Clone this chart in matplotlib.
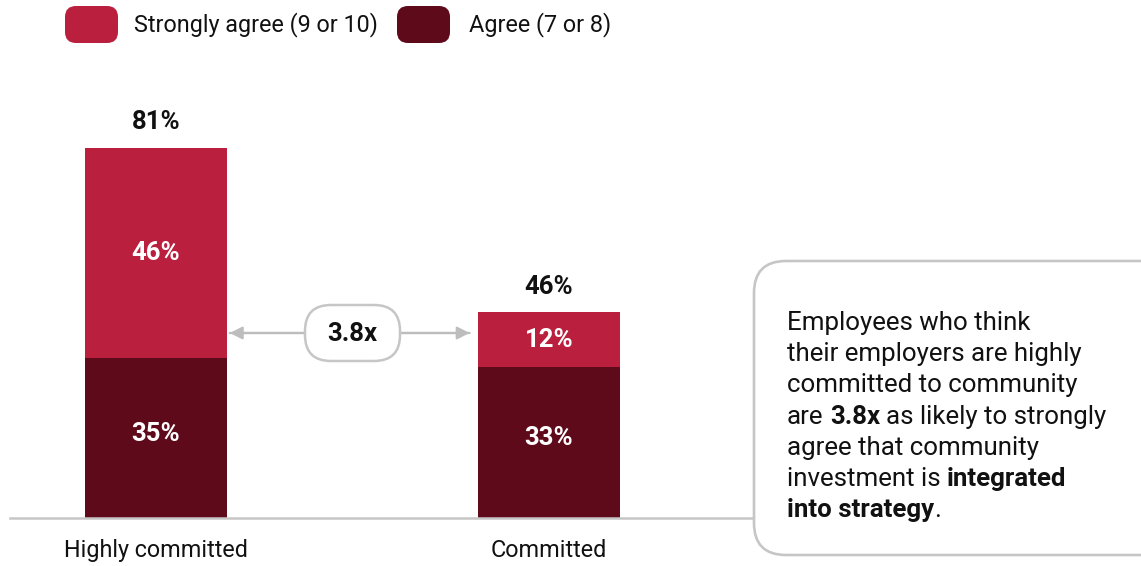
import matplotlib
matplotlib.use("Agg")
import matplotlib.pyplot as plt
from matplotlib.patches import FancyBboxPatch

plt.rcParams["font.family"] = ["Roboto", "DejaVu Sans"]

# ---- data ----
categories = ["Highly committed", "Committed"]
agree = [35, 33]              # Agree (7 or 8)
strongly_agree = [46, 12]     # Strongly agree (9 or 10)
totals = [81, 46]
series_names = ["Strongly agree (9 or 10)", "Agree (7 or 8)"]
ratio_label = "3.8x"

C_STRONG = "#BA1F3D"
C_AGREE = "#5E0A1A"
C_GRAY = "#C6C6C6"
W, H = 1141, 566
FS_BOLD = 18.5
FS_NOTE = 18.6
FS_LABEL = 16.8

fig = plt.figure(figsize=(W / 100, H / 100), dpi=100)

# bar axes: baseline at y=518 px, 4.568 px per percentage point
px_per_unit = 393.0
ax = fig.add_axes([10 / W, 1 - 518 / H, 745 / W, 456.8 / H])
ax.set_ylim(0, 100)
ax.set_xlim(-146 / px_per_unit, 1 + 206 / px_per_unit)
bar_w = 142 / px_per_unit
xs = list(range(len(categories)))

ax.bar(xs, agree, width=bar_w, color=C_AGREE, zorder=2)
ax.bar(xs, strongly_agree, bottom=agree, width=bar_w, color=C_STRONG, zorder=2)

for x, a, s, t in zip(xs, agree, strongly_agree, totals):
    ax.annotate(f"{a}%", (x, a / 2), xytext=(0, 3), textcoords="offset points",
                ha="center", va="center", color="white",
                fontsize=FS_BOLD, fontweight="bold", zorder=3)
    ax.text(x, a + s / 2, f"{s}%", ha="center", va="center", color="white",
            fontsize=FS_BOLD, fontweight="bold", zorder=3)
    ax.annotate(f"{t}%", (x, a + s), xytext=(0, 13.5), textcoords="offset points",
                ha="center", va="baseline", fontsize=FS_BOLD, fontweight="bold",
                color="#111111")

for side in ["top", "right", "left"]:
    ax.spines[side].set_visible(False)
ax.spines["bottom"].set_color(C_GRAY)
ax.spines["bottom"].set_linewidth(1.8)
ax.set_yticks([])
ax.set_xticks(xs)
ax.set_xticklabels(categories, fontsize=FS_LABEL, color="#111111")
ax.tick_params(axis="x", length=0, pad=15)
ax.patch.set_visible(False)

# double-headed comparison arrow between the two bars
arrow_y = 40.5
x_left = xs[0] + bar_w / 2
x_right = xs[1] - bar_w / 2
head = "-|>,head_length=0.75,head_width=0.38"
ax.annotate("", xy=(x_left, arrow_y), xytext=(x_right, arrow_y),
            arrowprops=dict(arrowstyle=head, color="#BDBDBD", lw=1.6,
                            shrinkA=6, shrinkB=2, mutation_scale=10))
ax.annotate("", xy=(x_right, arrow_y), xytext=(x_left, arrow_y),
            arrowprops=dict(arrowstyle=head, color="#BDBDBD", lw=1.6,
                            shrinkA=2, shrinkB=6, mutation_scale=10))

# overlay in pixel units for legend, pill and note box
deco = fig.add_axes([0, 0, 1, 1])
deco.set_xlim(0, W)
deco.set_ylim(H, 0)
deco.axis("off")
deco.patch.set_visible(False)

fig.canvas.draw()
# pill centred on the arrow
cx_disp, cy_disp = ax.transData.transform(((x_left + x_right) / 2, arrow_y))
cx, cy = deco.transData.inverted().transform((cx_disp, cy_disp))
pw, ph = 95, 56
deco.add_patch(FancyBboxPatch((cx - pw / 2, cy - ph / 2), pw, ph,
                              boxstyle="round,pad=0,rounding_size=26",
                              facecolor="white", edgecolor=C_GRAY, lw=1.8,
                              zorder=4))
deco.text(cx, cy + 1, ratio_label, ha="center", va="center", fontsize=FS_BOLD,
          fontweight="bold", color="#111111", zorder=5)

# legend
swatches = [(65, 69, C_STRONG), (397, 72, C_AGREE)]
for (sx, gap, col), name in zip(swatches, series_names):
    deco.add_patch(FancyBboxPatch((sx, 6), 53, 37,
                                  boxstyle="round,pad=0,rounding_size=11",
                                  facecolor=col, edgecolor="none"))
    deco.text(sx + gap, 25, name, ha="left", va="center", fontsize=16.8,
              color="#111111")

# note box
deco.add_patch(FancyBboxPatch((754, 261), 420, 294,
                              boxstyle="round,pad=0,rounding_size=32",
                              facecolor="white", edgecolor=C_GRAY, lw=1.9,
                              zorder=3))

note_lines = [
    [("Employees who think", False)],
    [("their employers are highly", False)],
    [("committed to community", False)],
    [("are", False), ("3.8x", True), ("as likely to strongly", False)],
    [("agree that community", False)],
    [("investment is", False), ("integrated", True)],
    [("into strategy", True), (".", False)],
]

renderer = fig.canvas.get_renderer()
inv = deco.transData.inverted()


def text_width(s, bold):
    t = deco.text(0, 0, s, fontsize=FS_NOTE,
                  fontweight="bold" if bold else "normal")
    bb = t.get_window_extent(renderer)
    t.remove()
    x0 = inv.transform((bb.x0, 0))[0]
    x1 = inv.transform((bb.x1, 0))[0]
    return x1 - x0


space_w = text_width("a a", False) - text_width("aa", False)

y0, dy = 330, 31.2
for i, pieces in enumerate(note_lines):
    x = 787
    for j, (s, bold) in enumerate(pieces):
        if j > 0 and s != ".":
            x += space_w
        deco.text(x, y0 + i * dy, s, ha="left", va="baseline", fontsize=FS_NOTE,
                  fontweight="bold" if bold else "normal", color="#111111",
                  zorder=5)
        x += text_width(s, bold)

fig.savefig("out.png", dpi=100)
